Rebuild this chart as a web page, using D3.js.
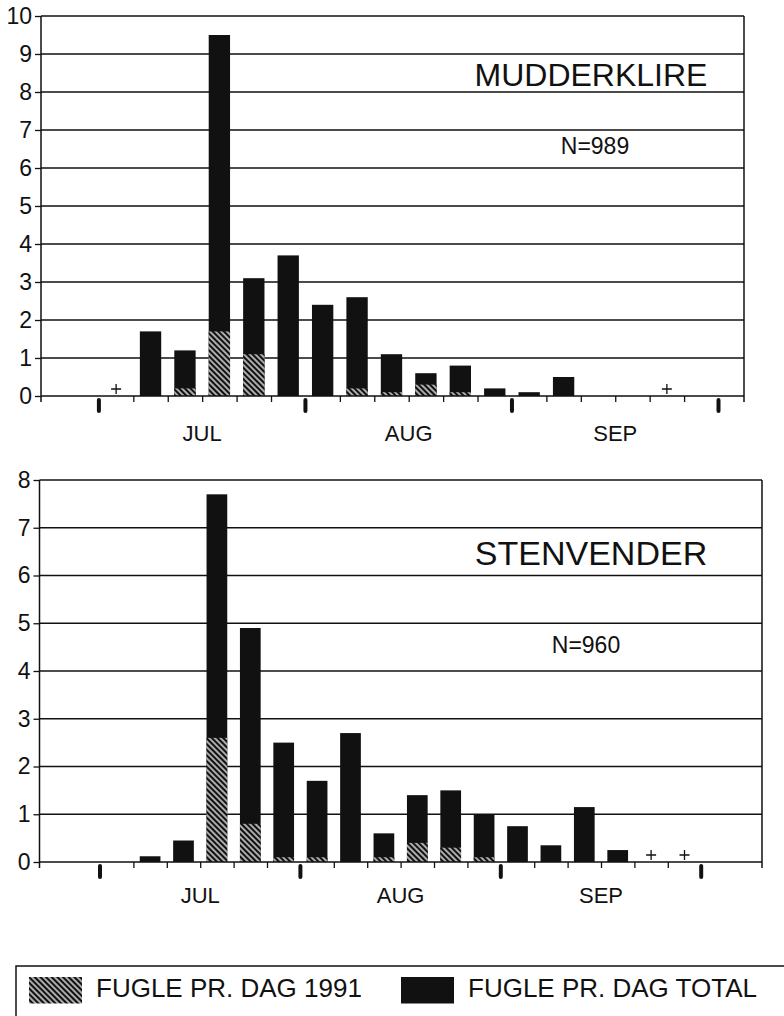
<!DOCTYPE html>
<html>
<head>
<meta charset="utf-8">
<script src="https://cdn.jsdelivr.net/npm/d3@7"></script>
<style>
  body { margin: 0; background: #fff; }
  svg { display: block; font-family: 'Liberation Sans', Arial, Helvetica, sans-serif; }
</style>
</head>
<body>
<div id="chart"></div>
<script>
// 5-day periods (pentads) July - September
const pentads = ['1-5 JUL', '6-10 JUL', '11-15 JUL', '16-20 JUL', '21-25 JUL', '26-31 JUL',
  '1-5 AUG', '6-10 AUG', '11-15 AUG', '16-20 AUG', '21-25 AUG', '26-31 AUG',
  '1-5 SEP', '6-10 SEP', '11-15 SEP', '16-20 SEP', '21-25 SEP', '26-30 SEP'];
const months = ['JUL', 'AUG', 'SEP'];

// MUDDERKLIRE, birds per day
const mudTotal = [0, 1.7, 1.2, 9.5, 3.1, 3.7, 2.4, 2.6, 1.1, 0.6, 0.8, 0.2, 0.1, 0.5, 0, 0, 0, 0];
const mud1991 = [0, 0, 0.2, 1.7, 1.1, 0, 0, 0.2, 0.1, 0.3, 0.1, 0, 0, 0, 0, 0, 0, 0];
const mudTrace = ['1-5 JUL', '21-25 SEP'];
const mudTicks = [0, 1, 2, 3, 4, 5, 6, 7, 8, 9, 10];

// STENVENDER, birds per day
const stenTotal = [0, 0.12, 0.45, 7.7, 4.9, 2.5, 1.7, 2.7, 0.6, 1.4, 1.5, 1.0, 0.75, 0.35, 1.15, 0.25, 0, 0];
const sten1991 = [0, 0, 0, 2.6, 0.8, 0.1, 0.1, 0, 0.1, 0.4, 0.3, 0.1, 0, 0, 0, 0, 0, 0];
const stenTrace = ['21-25 SEP', '26-30 SEP'];
const stenTicks = [0, 1, 2, 3, 4, 5, 6, 7, 8];

const legendLabels = ['FUGLE PR. DAG 1991', 'FUGLE PR. DAG TOTAL'];

const W = 784;
const H = 1016;
const ink = '#111';

const svg = d3.select('#chart').append('svg')
  .attr('width', W)
  .attr('height', H);

// hatch for the 1991 part of each bar
const hs = 4;
const pattern = svg.append('defs').append('pattern')
  .attr('id', 'hatch')
  .attr('patternUnits', 'userSpaceOnUse')
  .attr('width', hs)
  .attr('height', hs)
  .attr('patternTransform', 'rotate(-45)');
pattern.append('rect').attr('width', hs).attr('height', hs).attr('fill', ink);
pattern.append('line')
  .attr('x1', hs / 2).attr('y1', 0).attr('x2', hs / 2).attr('y2', hs)
  .attr('stroke', '#fff').attr('stroke-width', 1.3);

const panels = [
  {
    total: mudTotal, part: mud1991, trace: mudTrace, ticks: mudTicks,
    title: 'MUDDERKLIRE', n: 'N=989',
    top: 16, bottom: 396, left: 41, right: 744, jul1: 98.9, oct1: 718.5,
    titleX: 591, titleY: 86, titleSize: 32, nX: 595, nY: 154, monthY: 441,
  },
  {
    total: stenTotal, part: sten1991, trace: stenTrace, ticks: stenTicks,
    title: 'STENVENDER', n: 'N=960',
    top: 480, bottom: 862, left: 39.5, right: 762, jul1: 100, oct1: 701.2,
    titleX: 591, titleY: 565, titleSize: 34, nX: 586, nY: 653, monthY: 903,
  },
];

panels.forEach((p) => {
  const g = svg.append('g');
  const yMax = d3.max(p.ticks);
  const y = d3.scaleLinear().domain([0, yMax]).range([p.bottom, p.top]);
  const xe = d3.scaleLinear().domain([0, pentads.length]).range([p.jul1, p.oct1]);
  const x = d3.scaleBand()
    .domain(pentads)
    .range([p.jul1, p.oct1])
    .paddingInner(0.38)
    .paddingOuter(0.19);

  // gridlines
  g.selectAll('.grid')
    .data(p.ticks.filter(d => d > 0))
    .enter().append('line')
    .attr('x1', p.left)
    .attr('x2', p.right)
    .attr('y1', d => y(d))
    .attr('y2', d => y(d))
    .attr('stroke', ink)
    .attr('stroke-width', 1.4);

  // bars: total, then 1991 share on top of it
  g.selectAll('.bar')
    .data(p.total.map((v, i) => ({ key: pentads[i], v })).filter(d => d.v > 0))
    .enter().append('rect')
    .attr('x', d => x(d.key))
    .attr('width', x.bandwidth())
    .attr('y', d => y(d.v))
    .attr('height', d => y(0) - y(d.v))
    .attr('fill', ink);

  g.selectAll('.part')
    .data(p.part.map((v, i) => ({ key: pentads[i], v })).filter(d => d.v > 0))
    .enter().append('rect')
    .attr('x', d => x(d.key))
    .attr('width', x.bandwidth())
    .attr('y', d => y(d.v))
    .attr('height', d => y(0) - y(d.v))
    .attr('fill', 'url(#hatch)');

  // "+" marks for trace numbers
  g.selectAll('.trace')
    .data(p.trace)
    .enter().append('path')
    .attr('d', (d) => {
      const cx = x(d) + x.bandwidth() / 2;
      const cy = y(0) - 7;
      return `M${cx - 5},${cy}H${cx + 5}M${cx},${cy - 5}V${cy + 5}`;
    })
    .attr('stroke', ink)
    .attr('stroke-width', 1.3);

  // frame: y axis, right edge, baseline
  g.append('path')
    .attr('d', `M${p.left},${p.top}V${p.bottom + 6}M${p.right},${p.top}V${p.bottom + 6}`
      + `M${p.left},${p.bottom}H${p.right}`)
    .attr('fill', 'none')
    .attr('stroke', ink)
    .attr('stroke-width', 1.5);

  // y axis ticks and labels
  g.append('g')
    .attr('transform', `translate(${p.left},0)`)
    .call(d3.axisLeft(y).tickValues(p.ticks).tickSize(6).tickPadding(3).tickFormat(d3.format('d')))
    .call(a => a.select('.domain').remove())
    .call(a => a.selectAll('.tick line').attr('stroke', ink).attr('stroke-width', 1.3))
    .call(a => a.selectAll('.tick text')
      .attr('fill', ink)
      .style('font-size', '23px')
      .style('font-family', "'Liberation Sans', Arial, sans-serif"));

  // small ticks at pentad edges
  const edges = d3.range(1, pentads.length).filter(k => k % 6 !== 0);
  g.append('g')
    .attr('transform', `translate(0,${p.bottom})`)
    .call(d3.axisBottom(xe).tickValues(edges).tickSize(6).tickFormat(''))
    .call(a => a.select('.domain').remove())
    .call(a => a.selectAll('.tick line').attr('stroke', ink).attr('stroke-width', 1.3));

  // heavy marks at month edges
  g.selectAll('.monthEdge')
    .data(d3.range(0, pentads.length + 1, 6))
    .enter().append('rect')
    .attr('x', d => xe(d) - 2)
    .attr('y', p.bottom + 2)
    .attr('width', 4)
    .attr('height', 15)
    .attr('rx', 2)
    .attr('fill', ink);

  g.selectAll('.monthLabel')
    .data(months)
    .enter().append('text')
    .attr('x', (d, i) => xe(i * 6 + 3))
    .attr('y', p.monthY)
    .attr('text-anchor', 'middle')
    .style('font-size', '22px')
    .attr('fill', ink)
    .text(d => d);

  g.append('text')
    .attr('x', p.titleX)
    .attr('y', p.titleY)
    .attr('text-anchor', 'middle')
    .style('font-size', `${p.titleSize}px`)
    .attr('fill', ink)
    .text(p.title);

  g.append('text')
    .attr('x', p.nX)
    .attr('y', p.nY)
    .attr('text-anchor', 'middle')
    .style('font-size', '23px')
    .attr('fill', ink)
    .text(p.n);
});

// legend
const legend = svg.append('g');
legend.append('rect')
  .attr('x', 16)
  .attr('y', 966)
  .attr('width', 820)
  .attr('height', 100)
  .attr('fill', 'none')
  .attr('stroke', ink)
  .attr('stroke-width', 1.5);

const items = legend.selectAll('.item')
  .data(legendLabels)
  .enter().append('g')
  .attr('transform', (d, i) => `translate(${i === 0 ? 29 : 401},977)`);

items.append('rect')
  .attr('width', 53)
  .attr('height', 26.5)
  .attr('fill', (d, i) => (i === 0 ? 'url(#hatch)' : ink));

items.append('text')
  .attr('x', 67)
  .attr('y', 20)
  .style('font-size', '26px')
  .attr('fill', ink)
  .text(d => d);
</script>
</body>
</html>
